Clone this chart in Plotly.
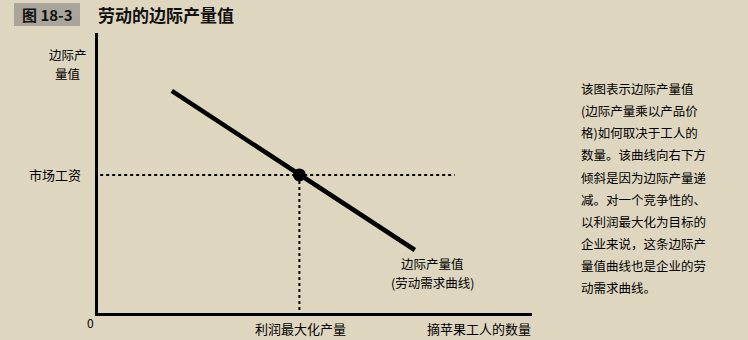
import plotly.graph_objects as go

# ---- data (abstract units) ----
workers = [1.7, 7.3]          # quantity of labour at curve ends
vmp = [7.93, 2.25]            # value of marginal product at curve ends
wage = 4.93                   # market wage
optimal_q = 4.64              # profit-maximising quantity
wage_line_end = 8.22

title_tag = "图 18-3"
title_text = "劳动的边际产量值"
y_title = ["边际产", "量值"]
x_title = "摘苹果工人的数量"
wage_label = "市场工资"
q_label = "利润最大化产量"
curve_label = ["边际产量值", "(劳动需求曲线)"]
note_lines = [
    "该图表示边际产量值",
    "(边际产量乘以产品价",
    "格)如何取决于工人的",
    "数量。该曲线向右下方",
    "倾斜是因为边际产量递",
    "减。对一个竞争性的、",
    "以利润最大化为目标的",
    "企业来说，这条边际产",
    "量值曲线也是企业的劳",
    "动需求曲线。",
]

W, H = 748, 340
BG = "#ded6bf"
FONT = "Noto Sans CJK SC"

def px(x):
    return x / W

def py(y):
    return 1 - y / H

fig = go.Figure()

# dotted guide lines
fig.add_trace(go.Scatter(x=[0.05, wage_line_end], y=[wage, wage], mode="lines",
                         line=dict(color="black", width=2, dash="dot"), hoverinfo="skip"))
fig.add_trace(go.Scatter(x=[optimal_q, optimal_q], y=[wage, 0], mode="lines",
                         line=dict(color="black", width=2, dash="dot"), hoverinfo="skip"))
# VMP curve
fig.add_trace(go.Scatter(x=workers, y=vmp, mode="lines",
                         line=dict(color="black", width=4.5), hoverinfo="skip"))
# equilibrium point
fig.add_trace(go.Scatter(x=[optimal_q], y=[wage], mode="markers",
                         marker=dict(color="black", size=13), hoverinfo="skip"))

x0, x1 = 98, 532
y_top, y_bot = 33, 313
fig.update_xaxes(domain=[px(x0), px(x1)], range=[0, 10], showline=True, linecolor="black",
                 linewidth=2.5, showgrid=False, zeroline=False, showticklabels=False, ticks="")
fig.update_yaxes(domain=[py(y_bot), py(y_top)], range=[0, 10], showline=True, linecolor="black",
                 linewidth=2.5, showgrid=False, zeroline=False, showticklabels=False, ticks="")

ann = []
def add(text, x, y, size=13, xanchor="center", bold=False, color="black"):
    ann.append(dict(text=f"<b>{text}</b>" if bold else text, x=px(x), y=py(y),
                    xref="paper", yref="paper", xanchor=xanchor, yanchor="middle",
                    showarrow=False, borderpad=0,
                    font=dict(family=FONT, size=size, color=color)))

add(title_tag, 47, 15, size=15, bold=True, color="#111")
add(title_text, 97, 15, size=17, xanchor="left", bold=True, color="#111")
add(y_title[0], 67.5, 55, size=12.5)
add(y_title[1], 67.5, 73, size=12.5)
add(wage_label, 55, 175, size=13)
add("0", 90, 322, size=12)
add(q_label, 300, 328, size=13)
add(x_title, 532, 328, size=13, xanchor="right")
add(curve_label[0], 432, 263, size=12.5)
add(curve_label[1], 432, 282, size=12.5)
for i, line in enumerate(note_lines):
    add(line, 580, 89 + 22 * i, size=12.5, xanchor="left")

fig.update_layout(
    width=W, height=H, margin=dict(l=0, r=0, t=0, b=0),
    paper_bgcolor=BG, plot_bgcolor=BG, showlegend=False,
    annotations=ann,
    shapes=[dict(type="rect", xref="paper", yref="paper", x0=px(14), x1=px(80),
                 y0=py(26), y1=py(3), fillcolor="#a9a59a", line=dict(width=0), layer="below")],
)

fig.write_html("out.html")
